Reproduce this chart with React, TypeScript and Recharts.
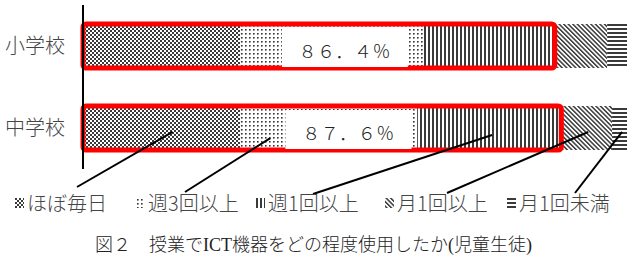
import React from "react";
import { BarChart, Bar, XAxis, YAxis, LabelList } from "recharts";

// categories (rows, top to bottom)
const categories = ["小学校", "中学校"];

// series values in percent
const dailyValues = [28.8, 28.8];
const thriceWeeklyValues = [33.5, 32.4];
const weeklyValues = [24.1, 26.4];
const monthlyValues = [9.6, 9.3];
const underMonthlyValues = [4.0, 3.1];

// the framed total ("週1回以上" or more)
const highlightTotals = [86.4, 87.6];

const seriesNames = ["ほぼ毎日", "週3回以上", "週1回以上", "月1回以上", "月1回未満"];
const seriesKeys = ["daily", "thrice", "weekly", "monthly", "under"];
const patternIds = ["p-daily", "p-thrice", "p-weekly", "p-monthly", "p-under"];

const title = "図２　授業でICT機器をどの程度使用したか(児童生徒)";

// layout for legend items and leader lines (page coordinates)
const legendLeft = [15, 136, 256, 385, 507];
const leaderStarts = [
    [77, 187],
    [185, 192],
    [313, 194],
    [447, 193],
    [575, 193],
];
// where the leader touches the 中学校 segment, as fraction of the segment box
const leaderTargets = [
    [0.57, 0.59],
    [0.17, 0.73],
    [0.52, 0.66],
    [0.53, 0.59],
    [0.59, 0.59],
];

const jpFont = '"Noto Sans CJK JP", sans-serif';
const ink = "#444444";

const toFullWidth = (s: string) =>
    s.replace(/[0-9.%]/g, (c) => String.fromCharCode(c.charCodeAt(0) + 0xfee0));

const data = categories.map((name, i) => ({
    name,
    daily: dailyValues[i],
    thrice: thriceWeeklyValues[i],
    weekly: weeklyValues[i],
    monthly: monthlyValues[i],
    under: underMonthlyValues[i],
    total: highlightTotals[i],
}));

const makeLeader = (s: number) => (props: any) => {
    const { index } = props;
    if (index !== 1) return null;
    const x = Number(props.x);
    const y = Number(props.y);
    const w = Number(props.width);
    const h = Number(props.height);
    const [sx, sy] = leaderStarts[s];
    const [fx, fy] = leaderTargets[s];
    return (
        <line
            x1={sx}
            y1={sy}
            x2={x + w * fx}
            y2={y + h * fy}
            stroke="#000000"
            strokeWidth={2}
        />
    );
};

const totalLabel = (props: any) => {
    const x = Number(props.x);
    const y = Number(props.y);
    const w = Number(props.width);
    const h = Number(props.height);
    const i = props.index ?? 0;
    const cx = x + w * 0.555;
    return (
        <g>
            <rect x={cx - 63} y={y + 4} width={126} height={h - 5} fill="#ffffff" />
            <text
                x={cx}
                y={y + h / 2 + 7}
                textAnchor="middle"
                dominantBaseline="middle"
                fontSize={18}
                fill="#222222"
                fontFamily={jpFont}
                fontWeight={300}
                letterSpacing={0.5}
            >
                {toFullWidth(highlightTotals[i].toFixed(1) + "%")}
            </text>
        </g>
    );
};

const Swatch: React.FC<{ id: string }> = ({ id }) => (
    <svg width={9} height={10} style={{ marginRight: 3 }}>
        <rect x={0} y={0} width={9} height={10} fill={`url(#${id})`} />
    </svg>
);

const App: React.FC = () => {
    return (
        <div
            style={{
                position: "absolute",
                left: 0,
                top: 0,
                width: 627,
                height: 264,
                background: "#ffffff",
                overflow: "hidden",
            }}
        >
            <BarChart
                width={627}
                height={264}
                data={data}
                layout="vertical"
                margin={{ top: 5, right: -2, left: 0, bottom: 95 }}
            >
                <defs>
                    <pattern id="p-daily" width={4} height={4} patternUnits="userSpaceOnUse">
                        <rect width={4} height={4} fill="#ffffff" />
                        <rect x={0} y={0} width={2} height={2} fill="#3a3a3a" />
                        <rect x={2} y={2} width={2} height={2} fill="#3a3a3a" />
                    </pattern>
                    <pattern id="p-thrice" width={4} height={4} patternUnits="userSpaceOnUse">
                        <rect width={4} height={4} fill="#ffffff" />
                        <rect x={1} y={1} width={1.6} height={1.6} fill="#333333" />
                    </pattern>
                    <pattern id="p-weekly" width={4} height={4} patternUnits="userSpaceOnUse">
                        <rect width={4} height={4} fill="#ffffff" />
                        <rect x={0} y={0} width={2} height={4} fill="#3a3a3a" />
                    </pattern>
                    <pattern
                        id="p-monthly"
                        width={3.2}
                        height={4}
                        patternUnits="userSpaceOnUse"
                        patternTransform="rotate(-45)"
                    >
                        <rect width={3.2} height={4} fill="#ffffff" />
                        <rect x={0} y={0} width={1.5} height={4} fill="#3a3a3a" />
                    </pattern>
                    <pattern id="p-under" width={4} height={4} patternUnits="userSpaceOnUse">
                        <rect width={4} height={4} fill="#ffffff" />
                        <rect x={0} y={0} width={4} height={2} fill="#3a3a3a" />
                    </pattern>
                </defs>
                <XAxis type="number" domain={[0, 100]} hide />
                <YAxis
                    type="category"
                    dataKey="name"
                    width={83}
                    axisLine={{ stroke: "#000000", strokeWidth: 2 }}
                    tickLine={false}
                    tickSize={0}
                    tickMargin={18}
                    tick={{ fontSize: 20, fill: ink, fontFamily: jpFont, fontWeight: 300 }}
                />
                <YAxis yAxisId="outline" type="category" dataKey="name" hide />
                {seriesKeys.map((key, s) => (
                    <Bar
                        key={key}
                        dataKey={key}
                        name={seriesNames[s]}
                        stackId="share"
                        fill={`url(#${patternIds[s]})`}
                        barSize={44}
                        isAnimationActive={false}
                    >
                        <LabelList dataKey={key} content={makeLeader(s)} />
                    </Bar>
                ))}
                <Bar
                    dataKey="total"
                    yAxisId="outline"
                    fill="none"
                    stroke="#ff0000"
                    strokeWidth={5}
                    radius={3}
                    barSize={44}
                    isAnimationActive={false}
                >
                    <LabelList dataKey="total" content={totalLabel} />
                </Bar>
            </BarChart>

            {seriesNames.map((n, s) => (
                <div
                    key={n}
                    style={{
                        position: "absolute",
                        left: legendLeft[s],
                        top: 191,
                        display: "flex",
                        alignItems: "center",
                        fontFamily: jpFont,
                        fontSize: 20,
                        fontWeight: 300,
                        lineHeight: "24px",
                        color: ink,
                        whiteSpace: "nowrap",
                    }}
                >
                    <Swatch id={patternIds[s]} />
                    <span>{n}</span>
                </div>
            ))}

            <div
                style={{
                    position: "absolute",
                    left: 0,
                    top: 233,
                    width: 627,
                    textAlign: "center",
                    fontFamily: '"Liberation Serif", "Noto Sans CJK JP", serif',
                    fontSize: 18,
                    fontWeight: 300,
                    lineHeight: "24px",
                    color: "#222222",
                    whiteSpace: "nowrap",
                }}
            >
                {title}
            </div>
        </div>
    );
};

export default App;
